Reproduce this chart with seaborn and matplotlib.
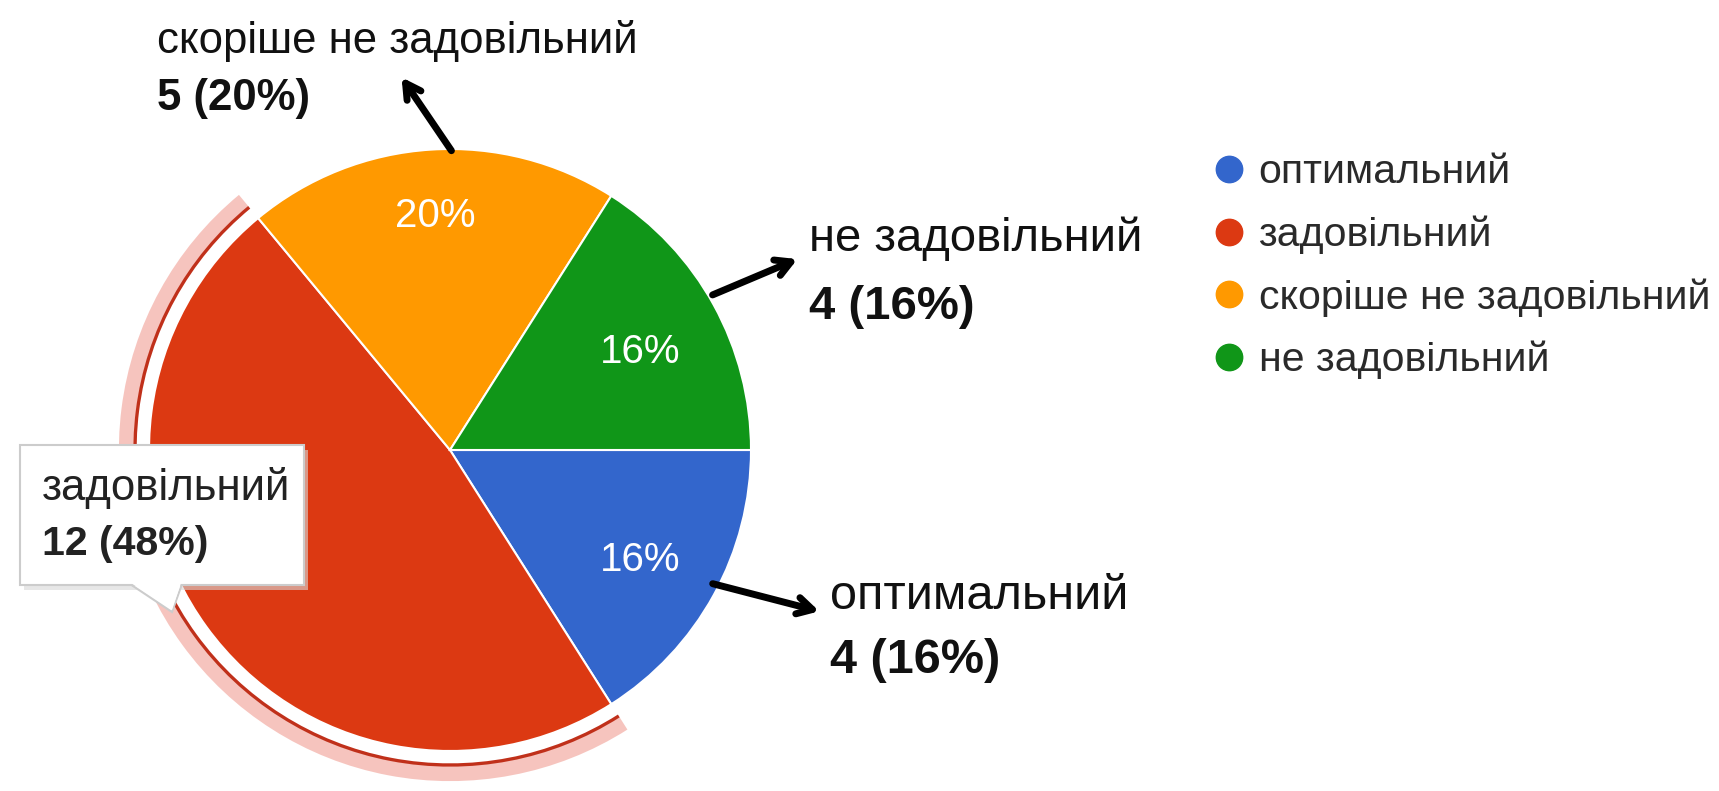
import numpy as np
import matplotlib
matplotlib.use('Agg')
import matplotlib.pyplot as plt
import seaborn as sns
from matplotlib.patches import Wedge, FancyBboxPatch, Polygon
from matplotlib.lines import Line2D

categories = ['оптимальний', 'задовільний', 'скоріше не задовільний', 'не задовільний']
counts = [4, 12, 5, 4]
colors = ['#3366CC', '#DC3912', '#FF9900', '#109618']

sns.set_theme(style='white')
plt.rcParams['font.family'] = ['Liberation Sans', 'DejaVu Sans']

W, H = 1719, 791
fig = plt.figure(figsize=(W / 100, H / 100), dpi=100)
ax = fig.add_axes([0, 0, 1, 1])

total = sum(counts)
pcts = [c / total * 100 for c in counts]

cx, cy, R = 450, H - 450, 301
wedges, _ = ax.pie(counts, colors=colors, startangle=0, counterclock=False,
                   center=(cx, cy), radius=R,
                   wedgeprops=dict(edgecolor='white', linewidth=1.5))

# highlight ring around the hovered slice (задовільний)
red = wedges[1]
ax.add_patch(Wedge((cx, cy), R * 1.10, red.theta1, red.theta2, width=R * 0.05,
                   facecolor='#F4B6AE', edgecolor='none', alpha=0.8))
ax.add_patch(Wedge((cx, cy), R * 1.052, red.theta1, red.theta2, width=R * 0.011,
                   facecolor='#C0301A', edgecolor='none'))

# percent labels inside slices (not for the hovered one)
dists = [0.72, None, 0.80, 0.72]
for w, p, d in zip(wedges, pcts, dists):
    if d is None:
        continue
    ang = np.deg2rad((w.theta1 + w.theta2) / 2)
    ax.text(cx + d * R * np.cos(ang), cy + d * R * np.sin(ang) - 6, f'{p:.0f}%',
            color='white', fontsize=29, ha='center', va='center')

# outside labels with arrows
ink = '#111111'
ax.text(157, H - 53, categories[2], fontsize=31.5, color=ink, va='baseline')
ax.text(157, H - 110, f'{counts[2]} ({pcts[2]:.0f}%)', fontsize=31.5,
        fontweight='bold', color=ink, va='baseline')
ax.text(809, H - 251, categories[3], fontsize=34, color=ink, va='baseline')
ax.text(809, H - 319, f'{counts[3]} ({pcts[3]:.0f}%)', fontsize=34,
        fontweight='bold', color=ink, va='baseline')
ax.text(830, H - 609, categories[0], fontsize=35, color=ink, va='baseline')
ax.text(830, H - 673, f'{counts[0]} ({pcts[0]:.0f}%)', fontsize=35,
        fontweight='bold', color=ink, va='baseline')

arrow = dict(arrowstyle='->,head_length=0.9,head_width=0.5', lw=5,
             color='black', capstyle='round', joinstyle='round')
for tail, head in [((453, 153), (400, 75)), ((710, 296), (800, 258)),
                   ((710, 583), (822, 612))]:
    ax.annotate('', xy=(head[0], H - head[1]), xytext=(tail[0], H - tail[1]),
                arrowprops=arrow)

# tooltip box
ax.add_patch(FancyBboxPatch((24, H - 590), 284, 140, boxstyle='square,pad=0',
                            facecolor='#D8D8D8', edgecolor='none', alpha=0.6))
ax.add_patch(Polygon([(130, H - 584), (182, H - 584), (172, H - 612)],
                     closed=True, facecolor='white', edgecolor='#CCCCCC', lw=1.5))
ax.add_patch(FancyBboxPatch((20, H - 585), 284, 140, boxstyle='square,pad=0',
                            facecolor='white', edgecolor='#CCCCCC', lw=1.5))
ax.add_patch(Polygon([(131, H - 583), (181, H - 583), (172, H - 610)],
                     closed=True, facecolor='white', edgecolor='none'))
ax.text(42, H - 500, categories[1], fontsize=31.5, color='#222222', va='baseline')
ax.text(42, H - 555, f'{counts[1]} ({pcts[1]:.0f}%)', fontsize=29.5,
        fontweight='bold', color='#222222', va='baseline')

# legend
handles = [Line2D([], [], marker='o', linestyle='none', markersize=19,
                  markerfacecolor=c, markeredgecolor=c) for c in colors]
leg = ax.legend(handles, categories, loc='upper left',
                bbox_to_anchor=(1195 / W, 1 - 137 / H), frameon=False,
                fontsize=29.5, labelspacing=0.59, handletextpad=0.3,
                handlelength=0.85, borderaxespad=0)
for t in leg.get_texts():
    t.set_color('#2a2a2a')

ax.set_xlim(0, W)
ax.set_ylim(0, H)
ax.set_aspect('equal')
ax.axis('off')

fig.savefig('out.png', dpi=100)
